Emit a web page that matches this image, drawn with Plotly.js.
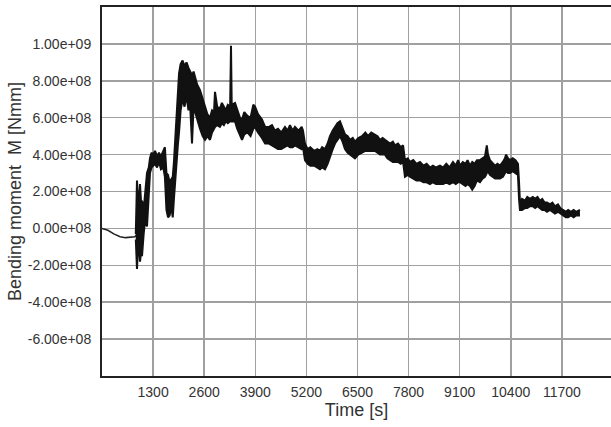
<!DOCTYPE html>
<html>
<head>
<meta charset="utf-8">
<script src="https://cdn.plot.ly/plotly-3.0.1.min.js"></script>
<style>html,body{margin:0;padding:0;background:#fff;}#chart{width:611px;height:427px;}</style>
</head>
<body>
<div id="chart"></div>
<script>
// Initial quiet segment (time [s], moment in 1e8 Nmm)
const startTime = [0, 150, 300, 460, 600, 840, 870];
const startMoment = [0.0, -0.1, -0.3, -0.45, -0.5, -0.45, -0.35];

// Noisy band: time [s], upper and lower envelope (1e8 Nmm)
const bandTime = [860,890,930,967,1000,1018,1060,1100,1145,1190,1221,1260,1300,1350,1400,1450,1500,1560,1600,1640,1680,1720,1760,1800,1830,1860,1900,1933,1960,2000,2050,2100,2150,2200,2240,2290,2330,2366,2420,2493,2560,2620,2680,2748,2800,2850,2875,2930,3000,3050,3100,3150,3200,3260,3282,3300,3384,3440,3511,3562,3620,3700,3780,3850,3892,3969,4070,4150,4250,4325,4400,4477,4560,4655,4720,4783,4850,4910,5000,5080,5113,5164,5230,5300,5400,5480,5546,5600,5673,5740,5800,5870,5928,5990,6055,6120,6182,6250,6309,6380,6436,6520,6614,6700,6767,6850,6945,7010,7072,7140,7200,7260,7327,7400,7454,7530,7600,7660,7708,7780,7836,7920,8000,8090,8180,8260,8344,8420,8500,8599,8680,8760,8840,8929,9000,9060,9108,9180,9250,9300,9362,9420,9480,9540,9616,9680,9744,9790,9820,9870,9922,10000,10060,10125,10200,10252,10280,10330,10380,10450,10520,10583,10610,10634,10685,10760,10820,10888,10960,11020,11080,11143,11200,11260,11321,11400,11460,11524,11600,11660,11728,11800,11860,11931,12000,12060,12160];
const bandUpper = [-0.3,2.6,1.0,2.4,1.2,1.5,1.0,2.2,3.0,3.3,3.8,4.1,4.0,4.2,3.9,4.1,3.9,4.2,4.4,3.0,2.9,2.5,2.7,2.8,3.6,4.6,6.5,7.0,8.4,8.9,9.1,8.8,9.0,8.7,8.5,8.3,8.5,8.2,7.8,7.5,7.0,6.6,6.2,6.0,6.4,6.3,7.4,6.6,6.5,6.8,6.6,6.4,6.7,6.6,9.9,6.7,6.8,6.4,6.0,5.9,6.3,6.1,6.0,6.7,6.6,6.2,5.9,5.5,5.5,5.6,5.3,5.4,5.2,5.5,5.3,5.6,5.3,5.5,5.3,5.5,5.3,4.6,4.3,4.4,4.2,4.3,4.2,4.4,4.3,4.6,5.0,5.3,5.5,5.7,5.8,5.4,5.1,5.0,4.8,4.9,4.7,4.9,5.0,5.2,5.0,5.2,5.1,5.0,4.8,4.9,4.8,4.7,4.6,4.7,4.5,4.6,4.4,4.5,3.7,3.8,3.6,3.7,3.5,3.6,3.4,3.5,3.3,3.4,3.3,3.4,3.3,3.5,3.3,3.6,3.4,3.7,3.4,3.6,3.5,3.7,3.4,3.6,3.5,3.7,3.7,3.8,3.9,4.5,4.0,3.7,3.6,3.4,3.5,3.4,3.6,3.8,4.0,3.8,3.7,3.8,3.7,3.5,2.5,1.4,1.6,1.5,1.7,1.6,1.7,1.6,1.7,1.5,1.6,1.4,1.4,1.3,1.4,1.2,1.3,1.1,1.0,0.9,1.0,0.9,1.0,0.9,1.0];
const bandLower = [-0.6,-2.2,-0.5,-1.8,-1.2,-1.5,-0.3,0.5,0.1,1.8,3.0,3.3,3.4,3.5,3.3,3.6,3.2,3.3,2.8,1.0,0.6,0.7,1.2,0.6,1.6,2.5,4.0,4.6,5.2,6.4,7.0,6.6,7.2,6.4,6.8,4.6,6.6,6.3,6.0,5.4,5.0,4.8,5.0,4.8,5.2,5.4,5.5,5.6,5.5,5.7,5.6,5.8,5.7,5.8,5.9,5.8,5.8,5.4,5.0,4.8,5.1,5.2,5.0,5.4,5.5,5.2,4.9,4.6,4.6,4.5,4.4,4.3,4.3,4.4,4.5,4.4,4.4,4.5,4.4,4.3,4.4,3.7,3.5,3.4,3.4,3.3,3.2,3.3,3.2,3.5,3.9,4.3,4.6,4.8,5.0,4.7,4.3,4.1,4.0,3.9,3.8,4.0,4.1,4.2,4.2,4.2,4.2,4.1,4.0,4.0,4.0,3.8,3.7,3.6,3.6,3.6,3.5,3.6,2.8,2.9,2.8,2.7,2.6,2.6,2.5,2.5,2.4,2.5,2.4,2.4,2.4,2.5,2.4,2.5,2.4,2.5,2.5,2.4,2.3,2.4,2.3,2.1,2.3,2.6,2.5,2.7,2.8,3.0,3.1,2.9,2.8,2.7,2.7,2.7,2.8,3.0,3.1,3.0,3.0,3.1,3.0,2.9,1.6,1.0,1.0,1.1,1.1,1.2,1.2,1.1,1.2,1.1,1.0,1.0,0.9,1.0,0.9,0.8,0.9,0.8,0.7,0.6,0.6,0.7,0.6,0.7,0.7];

// Axis ticks
const xTickVals = [1300, 2600, 3900, 5200, 6500, 7800, 9100, 10400, 11700];
const yTickVals = [-6e8, -4e8, -2e8, 0, 2e8, 4e8, 6e8, 8e8, 1e9];
const yTickText = ["-6.00e+08", "-4.00e+08", "-2.00e+08", "0.00e+08", "2.00e+08", "4.00e+08", "6.00e+08", "8.00e+08", "1.00e+09"];

const scale = 1e8;
const traces = [
  {x: startTime, y: startMoment.map(v => v * scale), mode: 'lines', line: {color: '#222', width: 1.5}, hoverinfo: 'skip'},
  {x: bandTime, y: bandLower.map(v => v * scale), mode: 'lines', line: {color: '#111', width: 2}, hoverinfo: 'skip'},
  {x: bandTime, y: bandUpper.map(v => v * scale), mode: 'lines', fill: 'tonexty', fillcolor: '#111', line: {color: '#111', width: 2}, hoverinfo: 'skip'}
];

const layout = {
  width: 611, height: 427,
  margin: {l: 102, r: 0, t: 7, b: 51, pad: 0},
  paper_bgcolor: '#fff', plot_bgcolor: '#fff',
  showlegend: false,
  font: {family: 'Liberation Sans, Arial, sans-serif', color: '#333', size: 14},
  xaxis: {
    range: [0, 12950], tickvals: xTickVals, ticktext: xTickVals.map(String),
    showgrid: true, gridcolor: '#a0a0a0', gridwidth: 1.5,
    showline: true, linecolor: '#222', linewidth: 2, mirror: true,
    ticks: 'outside', ticklen: 2, tickcolor: 'rgba(0,0,0,0)',
    zeroline: false,
    tickfont: {size: 14, color: '#333'},
    title: {text: 'Time [s]', font: {size: 18, color: '#333'}, standoff: 3}
  },
  yaxis: {
    range: [-8e8, 1.2e9], tickvals: yTickVals, ticktext: yTickText,
    showgrid: true, gridcolor: '#a0a0a0', gridwidth: 1.5,
    showline: true, linecolor: '#222', linewidth: 2, mirror: false,
    ticks: 'outside', ticklen: 6, tickcolor: 'rgba(0,0,0,0)',
    zeroline: false,
    tickfont: {size: 14, color: '#333'},
    title: {text: 'Bending moment  M [Nmm]', font: {size: 18, color: '#333'}, standoff: 1}
  }
};

Plotly.newPlot('chart', traces, layout, {staticPlot: true, displayModeBar: false});
</script>
</body>
</html>
